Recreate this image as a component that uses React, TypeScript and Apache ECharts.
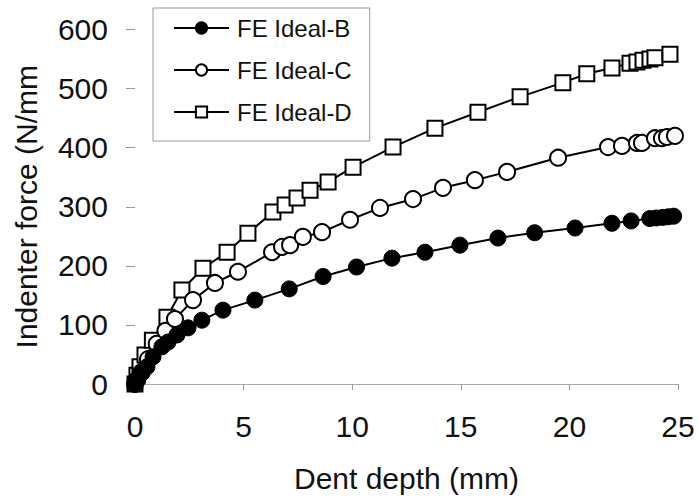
import React, { useEffect, useRef } from "react";
import * as echarts from "echarts";

const seriesNames = ["FE Ideal-B", "FE Ideal-C", "FE Ideal-D"];

const depthB = [0, 0.1, 0.3, 0.55, 0.83, 1.24, 1.52, 1.93, 2.44, 3.08, 4.05, 5.52, 7.1, 8.66, 10.2, 11.83, 13.35, 14.96, 16.71, 18.4, 20.26, 21.96, 22.84, 23.7, 24.0, 24.3, 24.55, 24.8];
const forceB = [0, 7, 18, 29, 46, 63, 71, 83, 95, 108, 125, 142, 161, 182, 198, 213, 223, 235, 247, 256, 264, 272, 276, 280, 281, 282, 283, 284];

const depthC = [0, 0.1, 0.3, 0.6, 1.0, 1.4, 1.84, 2.67, 3.68, 4.74, 6.31, 6.77, 7.14, 7.73, 8.61, 9.9, 11.28, 12.8, 14.18, 15.65, 17.13, 19.48, 21.78, 22.42, 23.11, 23.34, 23.94, 24.26, 24.49, 24.86];
const forceC = [0, 7, 20, 42, 68, 90, 110, 142, 171, 190, 223, 232, 235, 249, 257, 278, 298, 313, 332, 345, 359, 383, 401, 403, 408, 408, 416, 416, 418, 420];

const depthD = [0, 0.09, 0.23, 0.46, 0.8, 1.47, 2.16, 3.13, 4.24, 5.2, 6.35, 6.91, 7.46, 8.06, 8.89, 10.04, 11.88, 13.81, 15.79, 17.73, 19.7, 20.8, 21.96, 22.79, 23.11, 23.39, 23.71, 23.94, 24.63];
const forceD = [0, 15, 29, 49, 74, 113, 159, 196, 223, 255, 291, 303, 315, 328, 342, 367, 401, 433, 460, 486, 510, 525, 535, 543, 545, 548, 550, 552, 558];

const xTicks = { min: 0, max: 25, interval: 5 };
const yTicks = { min: 0, max: 600, interval: 100 };

const FONT = "'Liberation Sans', Arial, sans-serif";

function pairs(xs: number[], ys: number[]) {
  return xs.map((x, i) => [x, ys[i]]);
}

export default function App() {
  const ref = useRef<HTMLDivElement>(null);
  useEffect(() => {
    if (!ref.current) return;
    const chart = echarts.init(ref.current, undefined, { renderer: "svg" });
    const lineStyle = { color: "#000", width: 2 };
    chart.setOption({
      animation: false,
      backgroundColor: "#fff",
      grid: { left: 135, right: 20, top: 29.5, bottom: 118, containLabel: false },
      legend: {
        orient: "vertical",
        left: 153,
        top: 8,
        padding: [8, 18, 17, 20],
        itemGap: 18,
        itemWidth: 55,
        itemHeight: 14,
        borderColor: "#999",
        borderWidth: 1,
        backgroundColor: "#fff",
        textStyle: { fontSize: 24, fontFamily: FONT, color: "#111", padding: [0, 0, 0, 3] },
        data: seriesNames,
      },
      xAxis: {
        type: "value",
        min: xTicks.min,
        max: xTicks.max,
        interval: xTicks.interval,
        name: "Dent depth (mm)",
        nameLocation: "middle",
        nameGap: 79,
        nameTextStyle: { fontSize: 30, fontFamily: FONT, color: "#111" },
        axisLine: { show: true, lineStyle: { color: "#aaa", width: 1 } },
        axisTick: { show: true, length: 6, lineStyle: { color: "#999" } },
        axisLabel: { fontSize: 30, fontFamily: FONT, color: "#111", margin: 27 },
        splitLine: { show: false },
      },
      yAxis: {
        type: "value",
        min: yTicks.min,
        max: yTicks.max,
        interval: yTicks.interval,
        name: "Indenter force (N/mm",
        nameLocation: "middle",
        nameGap: 94,
        nameTextStyle: { fontSize: 30, fontFamily: FONT, color: "#111" },
        axisLine: { show: false },
        axisTick: { show: true, length: 9, lineStyle: { color: "#999" } },
        axisLabel: { fontSize: 30, fontFamily: FONT, color: "#111", margin: 27 },
        splitLine: { show: false },
      },
      series: [
        {
          name: seriesNames[2],
          type: "line",
          data: pairs(depthD, forceD),
          symbol: "rect",
          symbolSize: 15,
          lineStyle,
          itemStyle: { color: "#fff", borderColor: "#000", borderWidth: 2 },
          z: 2,
        },
        {
          name: seriesNames[1],
          type: "line",
          data: pairs(depthC, forceC),
          symbol: "circle",
          symbolSize: 16,
          lineStyle,
          itemStyle: { color: "#fff", borderColor: "#000", borderWidth: 2 },
          z: 3,
        },
        {
          name: seriesNames[0],
          type: "line",
          data: pairs(depthB, forceB),
          symbol: "circle",
          symbolSize: 16,
          lineStyle,
          itemStyle: { color: "#000", borderColor: "#000", borderWidth: 1 },
          z: 4,
        },
      ],
    });
    return () => chart.dispose();
  }, []);
  return <div ref={ref} style={{ width: 698, height: 502, position: "fixed", left: 0, top: 0, background: "#fff" }} />;
}
